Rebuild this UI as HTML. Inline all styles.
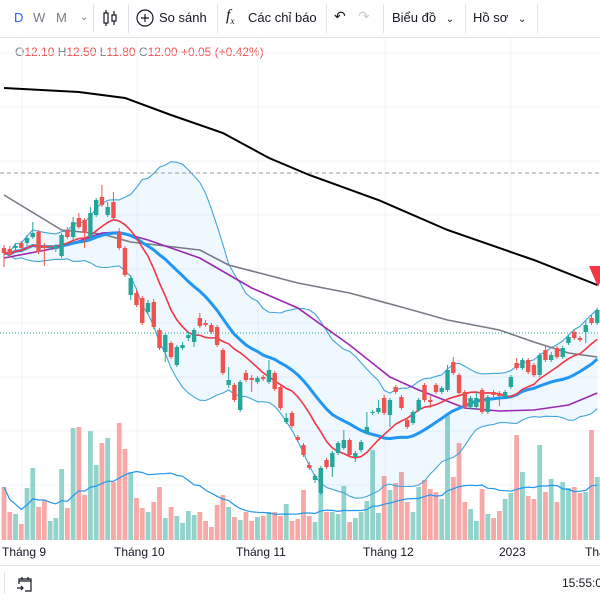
<!DOCTYPE html>
<html><head><meta charset="utf-8">
<style>
html,body{margin:0;padding:0;width:600px;height:600px;overflow:hidden;background:#fff;font-family:"Liberation Sans",sans-serif;}
#wrap{position:relative;width:600px;height:600px;}
.tb{position:absolute;top:0;left:0;width:600px;height:37px;border-bottom:1px solid #e0e3eb;background:#fff;font-size:13px;color:#131722;}
.tb span{position:absolute;top:10px;white-space:nowrap;}
.sep{position:absolute;top:4px;width:1px;height:29px;background:#e0e3eb;}
.ohlc{position:absolute;top:45px;left:15px;font-size:12px;color:#787b86;white-space:nowrap;}
.ohlc b{font-weight:normal;color:#ef5350;}
.xl{position:absolute;top:545px;font-size:12px;color:#131722;white-space:nowrap;}
</style></head>
<body><div id="wrap">
<div class="tb">
 <span style="left:14px;color:#2962ff">D</span>
 <span style="left:33px;color:#787b86">W</span>
 <span style="left:56px;color:#787b86">M</span>
 <span style="left:80px;color:#787b86;font-size:10px;top:12px">⌄</span>
 <div class="sep" style="left:93px"></div>
 <svg style="position:absolute;left:101px;top:9px" width="18" height="18"><g stroke="#131722" fill="none" stroke-width="1.2"><line x1="5" y1="1" x2="5" y2="17"/><rect x="3" y="4" width="4" height="10" fill="#fff"/><line x1="13" y1="2" x2="13" y2="16"/><rect x="11" y="6" width="4" height="6" fill="#fff"/></g></svg>
 <div class="sep" style="left:128px"></div>
 <svg style="position:absolute;left:136px;top:9px" width="18" height="18"><circle cx="9" cy="9" r="8" fill="none" stroke="#131722" stroke-width="1.2"/><path d="M9 5v8M5 9h8" stroke="#131722" stroke-width="1.2"/></svg>
 <span style="left:159px">So sánh</span>
 <div class="sep" style="left:217px"></div>
 <span style="left:226px;font-style:italic;font-family:'Liberation Serif',serif;font-size:16px;top:7px">f<sub style="font-size:9px">x</sub></span>
 <span style="left:248px">Các chỉ báo</span>
 <div class="sep" style="left:326px"></div>
 <span style="left:334px;font-size:14px;top:8px">↶</span>
 <span style="left:358px;font-size:14px;top:8px;color:#c8cbd3">↷</span>
 <div class="sep" style="left:383px"></div>
 <span style="left:392px">Biểu đồ <span style="position:static;font-size:10px;margin-left:6px">⌄</span></span>
 <div class="sep" style="left:465px"></div>
 <span style="left:473px">Hồ sơ <span style="position:static;font-size:10px;margin-left:6px">⌄</span></span>
 <div class="sep" style="left:537px"></div>
</div>
<div class="ohlc">O<b>12.10</b> H<b>12.50</b> L<b>11.80</b> C<b>12.00</b> <b>+0.05 (+0.42%)</b></div>
<svg id="chart" style="position:absolute;left:0;top:0" width="600" height="600"></svg>
<div class="xl" style="left:2px">Tháng 9</div>
<div class="xl" style="left:114px">Tháng 10</div>
<div class="xl" style="left:236px">Tháng 11</div>
<div class="xl" style="left:363px">Tháng 12</div>
<div class="xl" style="left:499px">2023</div>
<div class="xl" style="left:585px">Tháng</div>
<div style="position:absolute;left:0;top:565px;width:600px;height:1px;background:#e0e3eb"></div>
<div style="position:absolute;left:4px;top:572px;width:1px;height:22px;background:#e0e3eb"></div>
<svg style="position:absolute;left:16px;top:575px" width="18" height="18"><g fill="none" stroke="#131722" stroke-width="1.2"><path d="M6 2v3M12 2v3M3 6h12M3 9V4h12v12H9"/><path d="M1 13h6M5 11l2 2-2 2"/></g></svg>
<div style="position:absolute;left:562px;top:576px;font-size:12px;color:#131722;white-space:nowrap">15:55:09</div>
</div>
<script>
const opens=[32.5,32.4,32.5,33.0,33.0,33.6,34.1,32.7,32.5,32.4,31.7,34.3,33.6,35.5,35.3,33.6,35.8,37.6,35.8,37.1,34.1,32.5,27.8,28.0,27.5,26.1,27.1,24.3,22.1,23.0,20.8,22.5,23.5,23.1,25.5,25.0,24.8,24.6,22.3,18.8,18.8,16.3,20.0,19.5,19.1,19.6,19.1,20.0,18.6,15.1,16.0,13.6,12.8,10.8,9.3,8.0,11.3,10.6,12.0,12.5,13.3,11.6,12.3,14.1,16.0,16.1,17.5,15.8,18.6,17.6,15.3,15.0,16.3,18.8,17.3,18.8,18.1,18.3,21.1,19.8,18.1,16.6,16.6,18.3,16.1,18.1,18.0,17.6,18.6,21.0,20.5,21.3,20.8,19.8,22.3,21.3,22.5,21.6,23.0,24.1,23.5,24.1,25.5,25.0];
const highs=[32.8,32.7,33.0,33.2,33.8,35.1,34.3,33.0,32.8,32.9,34.0,34.6,35.6,36.0,35.5,36.6,37.5,38.8,37.1,38.1,34.5,32.7,29.8,28.3,27.7,27.3,27.4,24.5,24.0,23.2,22.8,23.1,24.1,24.5,26.0,25.3,25.0,24.8,22.5,20.6,19.0,19.3,20.3,19.8,19.7,19.8,21.3,20.2,18.8,16.0,16.2,13.8,13.0,11.1,9.9,10.7,11.5,12.2,13.2,14.3,13.5,12.2,13.3,16.1,16.3,17.3,17.8,17.5,18.8,17.8,15.5,16.3,17.5,19.0,17.7,19.0,18.7,20.8,21.6,20.0,18.3,17.7,18.1,18.5,17.8,18.3,18.2,18.3,19.8,21.5,21.5,21.5,21.0,22.0,22.8,22.1,22.7,22.7,23.8,24.3,23.7,25.3,25.8,26.5];
const lows=[30.6,31.5,32.2,32.3,32.7,33.4,31.9,30.7,32.3,32.1,31.5,33.4,33.3,34.4,32.5,33.4,35.6,36.6,35.6,35.3,32.3,29.6,27.3,26.6,24.8,25.8,24.4,22.3,21.1,21.4,20.6,22.3,23.2,22.6,24.5,24.6,23.9,22.6,19.8,18.5,17.1,16.1,19.1,18.1,18.9,19.2,18.9,18.2,16.3,14.9,14.5,13.1,11.6,10.3,9.0,7.8,10.4,9.6,11.8,12.3,11.6,11.1,12.1,13.9,15.8,15.9,15.8,14.6,17.9,16.3,14.4,14.8,16.1,17.1,16.5,17.9,17.9,18.1,19.8,17.8,16.4,16.4,16.4,15.9,15.9,17.6,16.7,17.4,18.4,20.3,20.3,19.9,19.6,19.6,21.1,21.1,21.4,21.4,22.8,23.3,23.1,23.0,24.8,24.8];
const closes=[32.0,31.8,32.7,32.5,33.5,34.0,32.1,32.5,32.6,32.7,33.8,33.6,35.1,34.6,34.0,36.0,37.3,36.8,36.6,35.5,32.5,29.8,29.5,26.8,25.0,27.0,24.6,22.5,23.8,21.6,22.6,22.8,23.8,24.3,24.7,24.8,24.1,22.8,20.0,19.3,17.3,19.1,19.3,19.3,19.5,19.4,20.3,18.4,16.5,15.5,14.7,13.3,11.8,10.5,9.7,10.5,10.6,12.0,13.0,13.3,11.8,12.0,13.1,14.6,16.1,16.5,16.0,17.3,18.1,16.5,14.6,16.1,17.3,17.3,17.1,18.1,18.5,20.3,20.0,18.0,16.6,17.5,17.5,16.1,17.6,17.8,17.7,18.1,19.6,20.5,21.3,20.1,19.8,21.8,21.3,21.8,21.6,22.5,23.6,23.5,23.3,24.8,25.0,26.3];
const volumes=[53,28,26,16,52,72,33,40,19,22,71,32,112,113,45,109,75,97,102,58,117,91,68,42,32,28,38,53,22,33,24,17,29,25,28,19,13,35,45,33,23,20,28,19,23,24,28,28,24,36,19,21,50,24,18,72,28,28,26,54,18,22,28,39,90,27,64,50,57,68,38,28,53,60,51,48,41,125,63,97,38,31,19,51,26,22,29,41,47,105,68,44,41,95,48,61,38,58,52,53,47,48,110,63];
const purpleIdx=[0,10,17,20,25,34,43,51,60,67,72,80,86,92,98,103];
const purpleVals=[31.5,32.6,34.0,34.1,33.3,31.5,28.5,26.5,22.8,19.6,18.3,16.5,16.2,16.3,16.8,18.0];
const grayIdx=[0,10,17,22,34,39,51,60,69,77,86,92,98,103];
const grayVals=[37.8,34.3,33.9,33.1,32.3,30.8,29.0,28.0,26.6,25.3,24.3,23.1,22.0,21.6];
const blackIdx=[0,13,21,29,38,46,53,65,77,92,103];
const blackVals=[48.5,48.1,47.5,45.8,44.0,41.5,39.8,37.3,34.3,31.3,28.8];
const gridPrices=[52,46.6,41.2,35.8,30.4,25,19.6,14.2,8.8];
const highLevel=40.0;
const lastLevel=24.0;

const NS='http://www.w3.org/2000/svg';
const svg=document.getElementById('chart');
const X=i=>4+i*5.76;
const Y=p=>573-p*10;
const VY=v=>540-v;
const GREEN='#26a69a',RED='#ef5350';
function mk(tag,attrs,parent){const e=document.createElementNS(NS,tag);for(const k in attrs)e.setAttribute(k,attrs[k]);(parent||svg).appendChild(e);return e;}
function sma(arr,n){return arr.map((_,i)=>{const s=Math.max(0,i-n+1);let t=0;for(let j=s;j<=i;j++)t+=arr[j];return t/(i-s+1);});}
function sd(arr,n,m){return arr.map((_,i)=>{const s=Math.max(0,i-n+1);let t=0;for(let j=s;j<=i;j++)t+=(arr[j]-m[i])**2;return Math.sqrt(t/(i-s+1));});}
function path(pts){return pts.map((p,i)=>(i?'L':'M')+p[0].toFixed(1)+' '+p[1].toFixed(1)).join('');}

const defs=mk('defs',{});
const cp=mk('clipPath',{id:'clip'},defs);mk('rect',{x:0,y:38,width:600,height:502},cp);

// grid
const grid=mk('g',{});


[22,137,258,385,511].forEach(x=>mk('line',{x1:x,y1:38,x2:x,y2:540,stroke:'#f0f3fa'},grid));
gridPrices.forEach(p=>mk('line',{x1:0,y1:Y(p),x2:600,y2:Y(p),stroke:'#f0f3fa'},grid));

const g=mk('g',{'clip-path':'url(#clip)'});

// volume
const vol=mk('g',{},g);


volumes.forEach((v,i)=>{const up=closes[i]>=opens[i];
 const r=mk('rect',{x:X(i)-2.4,y:VY(v),width:4.8,height:v,fill:up?'#92d3cc':'#f7a9a7'},vol);
 
 });
const vma=sma(volumes,20);
const vl=mk('path',{d:path(vma.map((v,i)=>[X(i),VY(v)])),stroke:'#2196f3',fill:'none','stroke-width':1.2},g);



// bollinger
const mid=sma(closes,20),dev=sd(closes,20,mid);
const up=mid.map((m,i)=>[X(i),Y(m+2*dev[i])]),lo=mid.map((m,i)=>[X(i),Y(m-2*dev[i])]);
const bf=mk('path',{d:path(up)+path(lo.slice().reverse()).replace('M','L')+'Z',fill:'rgba(33,150,243,0.07)',stroke:'none'},g);


const bu=mk('path',{d:path(up),stroke:'#42a5d8',fill:'none','stroke-width':1.1},g);


const bl=mk('path',{d:path(lo),stroke:'#42a5d8',fill:'none','stroke-width':1.1},g);



// level lines
const hl=mk('line',{x1:0,x2:600,y1:Y(highLevel),y2:Y(highLevel),stroke:'#9598a1','stroke-dasharray':'4 3'},g);


const ll=mk('line',{x1:0,x2:600,y1:Y(lastLevel),y2:Y(lastLevel),stroke:'#26a69a','stroke-dasharray':'1 2'},g);



// MA lines
const gl=mk('path',{d:path(grayIdx.map((k,i)=>[X(k),Y(grayVals[i])])),stroke:'#787b86',fill:'none','stroke-width':1.6},g);


const pl=mk('path',{d:path(purpleIdx.map((k,i)=>[X(k),Y(purpleVals[i])])),stroke:'#9c27b0',fill:'none','stroke-width':1.6},g);


const kl=mk('path',{d:path(blackIdx.map((k,i)=>[X(k),Y(blackVals[i])])),stroke:'#000',fill:'none','stroke-width':2},g);


const bm=mk('path',{d:path(mid.map((m,i)=>[X(i),Y(m)])),stroke:'#2196f3',fill:'none','stroke-width':3},g);


const rm=sma(closes,10);
const rl=mk('path',{d:path(rm.map((m,i)=>[X(i),Y(m)])),stroke:'#f23645',fill:'none','stroke-width':1.6},g);



// candles
const cg=mk('g',{},g);


closes.forEach((c,i)=>{const o=opens[i],u=c>=o,col=u?GREEN:RED;
 const grp=mk('g',{},cg);
 
 
 mk('line',{x1:X(i),x2:X(i),y1:Y(highs[i]),y2:Y(lows[i]),stroke:col,'stroke-width':1},grp);
 const t=Y(Math.max(o,c)),b=Y(Math.min(o,c));
 mk('rect',{x:X(i)-2.2,y:t,width:4.4,height:Math.max(1,b-t),fill:col},grp);});

const tri=mk('polygon',{points:'589,266 607,266 598,287',fill:'#f23645'},g);


</script>
</body></html>
